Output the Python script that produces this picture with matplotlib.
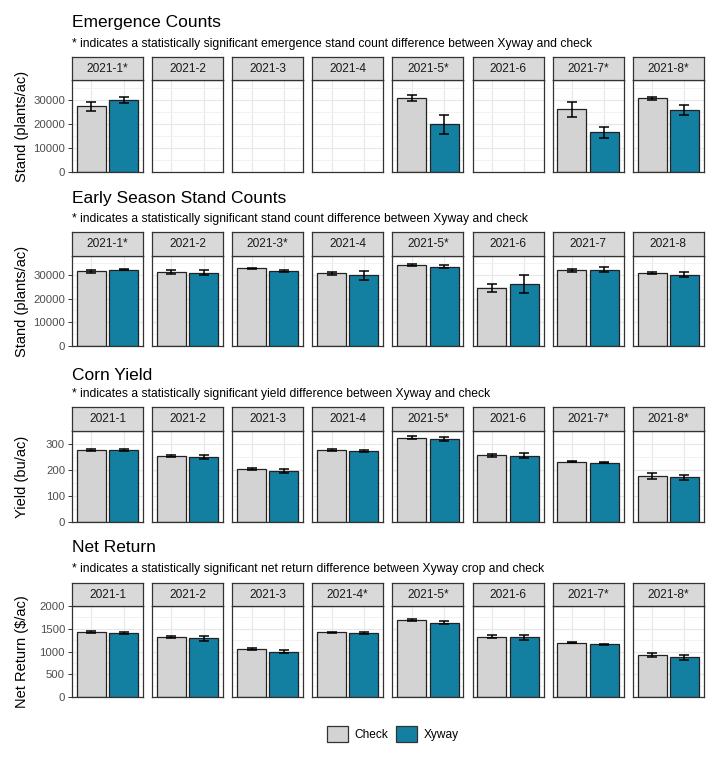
import numpy as np
import matplotlib
matplotlib.use("Agg")
import matplotlib.pyplot as plt
from matplotlib.patches import Patch

plt.rcParams['font.family'] = ['Liberation Sans', 'DejaVu Sans']

# data
SITES = ["2021-1", "2021-2", "2021-3", "2021-4", "2021-5", "2021-6", "2021-7", "2021-8"]
TREATMENTS = ["Check", "Xyway"]
COLORS = {"Check": "#D3D3D3", "Xyway": "#1380A1"}
nan = np.nan

emerg_sig = [True, False, False, False, True, False, True, True]
emerg_check = [27300, nan, nan, nan, 30800, nan, 26200, 30600]
emerg_check_se = [1900, nan, nan, nan, 1200, nan, 3100, 800]
emerg_xyway = [29900, nan, nan, nan, 19900, nan, 16500, 25700]
emerg_xyway_se = [1300, nan, nan, nan, 3900, nan, 2300, 2000]

stand_sig = [True, False, True, False, True, False, False, False]
stand_check = [31500, 31400, 32800, 30700, 34300, 24300, 32000, 30900]
stand_check_se = [700, 800, 300, 700, 500, 1700, 600, 300]
stand_xyway = [32300, 31000, 31500, 29800, 33500, 26100, 32300, 30100]
stand_xyway_se = [300, 1000, 400, 1900, 600, 3700, 900, 1100]

yield_sig = [False, False, False, False, True, False, True, True]
yield_check = [277, 253, 204, 276, 324, 256, 232, 177]
yield_check_se = [5, 4, 5, 3, 5, 5, 3, 11]
yield_xyway = [277, 250, 196, 274, 318, 255, 228, 172]
yield_xyway_se = [3, 7, 7, 4, 8, 9, 2, 10]

nr_sig = [False, False, False, True, True, False, True, True]
nr_check = [1435, 1318, 1055, 1421, 1685, 1326, 1194, 923]
nr_check_se = [25, 25, 30, 15, 25, 30, 5, 50]
nr_xyway = [1407, 1289, 996, 1407, 1634, 1311, 1158, 872]
nr_xyway_se = [20, 50, 35, 15, 35, 50, 8, 50]

rows = [
	dict(title="Emergence Counts",
		sub="* indicates a statistically significant emergence stand count difference between Xyway and check",
		ylabel="Stand (plants/ac)", sig=emerg_sig,
		vals=(emerg_check, emerg_xyway), errs=(emerg_check_se, emerg_xyway_se),
		ymax=38300, major=[0, 10000, 20000, 30000], minor=[5000, 15000, 25000, 35000],
		ty=23, sy=44, st=57, pt=80, pb=172),
	dict(title="Early Season Stand Counts",
		sub="* indicates a statistically significant stand count difference between Xyway and check",
		ylabel="Stand (plants/ac)", sig=stand_sig,
		vals=(stand_check, stand_xyway), errs=(stand_check_se, stand_xyway_se),
		ymax=38000, major=[0, 10000, 20000, 30000], minor=[5000, 15000, 25000, 35000],
		ty=198, sy=219, st=232, pt=256, pb=346),
	dict(title="Corn Yield",
		sub="* indicates a statistically significant yield difference between Xyway and check",
		ylabel="Yield (bu/ac)", sig=yield_sig,
		vals=(yield_check, yield_xyway), errs=(yield_check_se, yield_xyway_se),
		ymax=350, major=[0, 100, 200, 300], minor=[50, 150, 250],
		ty=375, sy=394, st=407, pt=431, pb=522),
	dict(title="Net Return",
		sub="* indicates a statistically significant net return difference between Xyway crop and check",
		ylabel="Net Return ($/ac)", sig=nr_sig,
		vals=(nr_check, nr_xyway), errs=(nr_check_se, nr_xyway_se),
		ymax=2000, major=[0, 500, 1000, 1500, 2000], minor=[250, 750, 1250, 1750],
		ty=548, sy=569, st=583, pt=606, pb=697),
]

W, H = 720, 768
fig = plt.figure(figsize=(W / 100, H / 100), dpi=100)

def fx(px):
	return px / W

def fy(py):
	return 1 - py / H

panel_w = 71
step = 80.1
left0 = 72
border = "#333333"

for row in rows:
	fig.text(fx(left0), fy(row["ty"]), row["title"], fontsize=12.5, va="center", ha="left")
	fig.text(fx(left0), fy(row["sy"]), row["sub"], fontsize=8.75, va="center", ha="left")
	fig.text(fx(22), fy((row["pt"] + row["pb"]) / 2), row["ylabel"], fontsize=10.5,
		rotation=90, va="center", ha="center")
	for i, site in enumerate(SITES):
		x0 = left0 + i * step
		ax = fig.add_axes([fx(x0), fy(row["pb"]), fx(panel_w), (row["pb"] - row["pt"]) / H])
		ax.set_xlim(0.4, 2.6)
		ax.set_ylim(0, row["ymax"])
		ax.set_xticks([1, 2])
		ax.set_yticks(row["major"])
		ax.set_yticks(row["minor"], minor=True)
		ax.grid(True, which="major", color="#E8E8E8", lw=0.9, zorder=0)
		ax.grid(True, which="minor", axis="y", color="#F0F0F0", lw=0.6, zorder=0)
		ax.set_axisbelow(True)
		ax.tick_params(axis="x", length=0, labelbottom=False)
		ax.tick_params(axis="y", which="minor", length=0)
		if i == 0:
			ax.tick_params(axis="y", which="major", length=3, width=0.7, color=border,
				labelsize=8.2, labelcolor="#4D4D4D", pad=2)
		else:
			ax.tick_params(axis="y", which="major", length=0, labelleft=False)
		for sp in ax.spines.values():
			sp.set_color(border)
			sp.set_linewidth(0.9)
		for j, trt in enumerate(TREATMENTS):
			v = row["vals"][j][i]
			e = row["errs"][j][i]
			if np.isnan(v):
				continue
			ax.bar(j + 1, v, width=0.9, color=COLORS[trt], edgecolor="#222222", lw=0.9, zorder=2)
			ax.errorbar(j + 1, v, yerr=e, color="black", lw=1.1, capsize=3.4, capthick=1.1, zorder=3)

		# facet strip
		sax = fig.add_axes([fx(x0), fy(row["pt"]), fx(panel_w), (row["pt"] - row["st"]) / H])
		sax.set_facecolor("#D9D9D9")
		sax.set_xticks([])
		sax.set_yticks([])
		for sp in sax.spines.values():
			sp.set_color(border)
			sp.set_linewidth(0.9)
		label = site + ("*" if row["sig"][i] else "")
		sax.text(0.5, 0.5, label, transform=sax.transAxes, ha="center", va="center",
			fontsize=8.6, color="#1A1A1A")

handles = [Patch(facecolor=COLORS[t], edgecolor=border, lw=0.9, label=t) for t in TREATMENTS]
fig.legend(handles=handles, loc="center", bbox_to_anchor=(fx(393), fy(734)), ncol=2,
	frameon=False, fontsize=8.6, handlelength=1.75, handleheight=1.75,
	handletextpad=0.55, columnspacing=0.65, borderaxespad=0)

fig.savefig("out.png", dpi=100)
